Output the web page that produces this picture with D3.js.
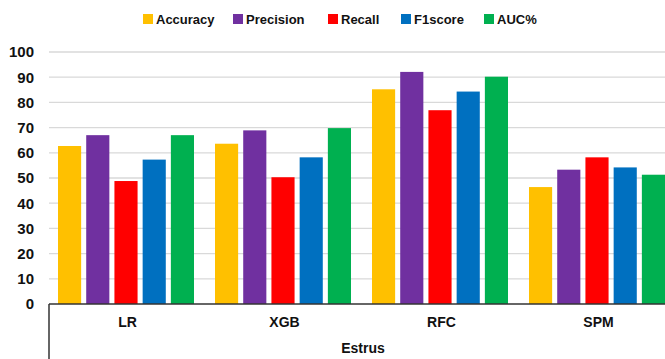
<!DOCTYPE html>
<html><head><meta charset="utf-8">
<script src="https://cdn.jsdelivr.net/npm/d3@7"></script>
<style>body{margin:0;background:#fff;} svg{display:block;font-family:"Liberation Sans",Arial,sans-serif;font-weight:bold;}</style>
</head><body><svg id="c" width="665" height="359"></svg>
<script>
const categories = ["LR","XGB","RFC","SPM"];
const seriesNames = ["Accuracy","Precision","Recall","F1score","AUC%"];
const seriesColors = ["#FFC000","#7030A0","#FF0000","#0070C0","#00B050"];
const accuracy  = [62.7, 63.6, 85.2, 46.4];
const precision = [67.0, 68.9, 92.1, 53.3];
const recall    = [48.8, 50.3, 76.9, 58.2];
const f1score   = [57.3, 58.2, 84.3, 54.2];
const auc       = [67.0, 69.8, 90.2, 51.3];
const yTicks = [0,10,20,30,40,50,60,70,80,90,100];
const xTitle = "Estrus";
const seriesValues = [accuracy, precision, recall, f1score, auc];

const svg = d3.select("#c");
const x0 = d3.scaleBand().domain(categories).range([49, 677]).paddingInner(0).paddingOuter(0);
const x1 = d3.scaleBand().domain(seriesNames).range([9, x0.bandwidth()-12]).paddingInner(0.18).paddingOuter(0);
const y = d3.scaleLinear().domain([0,100]).range([304, 52]);

// gridlines
svg.append("g").selectAll("line").data(yTicks.filter(d=>d>0)).join("line")
  .attr("x1", 49).attr("x2", 665).attr("y1", d=>y(d)).attr("y2", d=>y(d))
  .attr("stroke", "#d9d9d9").attr("stroke-width", 1.3);

// y axis labels
const yAxis = d3.axisLeft(y).tickValues(yTicks).tickSize(0).tickPadding(0);
const ya = svg.append("g").attr("transform","translate(34,0)").call(yAxis);
ya.select(".domain").remove();
ya.selectAll("text").attr("font-size",15).attr("font-weight","bold").attr("fill","#111").attr("font-family","Liberation Sans, Arial, sans-serif");

// bars
const rows = [];
categories.forEach((c,i)=>seriesNames.forEach((s,j)=>rows.push({c, s, v: seriesValues[j][i], col: seriesColors[j]})));
svg.append("g").selectAll("rect").data(rows).join("rect")
  .attr("x", d=>x0(d.c)+x1(d.s)).attr("width", x1.bandwidth())
  .attr("y", d=>y(d.v)).attr("height", d=>y(0)-y(d.v))
  .attr("fill", d=>d.col);

// x axis
const xa = svg.append("g").attr("transform",`translate(0,${y(0)})`)
  .call(d3.axisBottom(x0).tickSize(0).tickPadding(13));
xa.select(".domain").attr("stroke","#333").attr("stroke-width",1.5).attr("d","M49,0H677");
xa.selectAll("text").attr("font-size",14).attr("font-weight","bold").attr("fill","#111").attr("font-family","Liberation Sans, Arial, sans-serif");
svg.append("line").attr("x1",49).attr("x2",49).attr("y1",y(0)).attr("y2",359).attr("stroke","#333").attr("stroke-width",1.5);
svg.append("text").attr("x",(49+677)/2).attr("y",353).attr("text-anchor","middle").attr("font-size",14).attr("fill","#111").text(xTitle);

// legend
const legendX = [143, 233, 328, 401, 484];
const lg = svg.append("g").selectAll("g").data(seriesNames).join("g")
  .attr("transform",(d,i)=>`translate(${legendX[i]},11)`);
lg.append("rect").attr("width",10).attr("height",10).attr("y",3).attr("fill",(d,i)=>seriesColors[i]);
lg.append("text").attr("x",13).attr("y",13).attr("font-size",13).attr("fill","#111").text(d=>d);
</script></body></html>
